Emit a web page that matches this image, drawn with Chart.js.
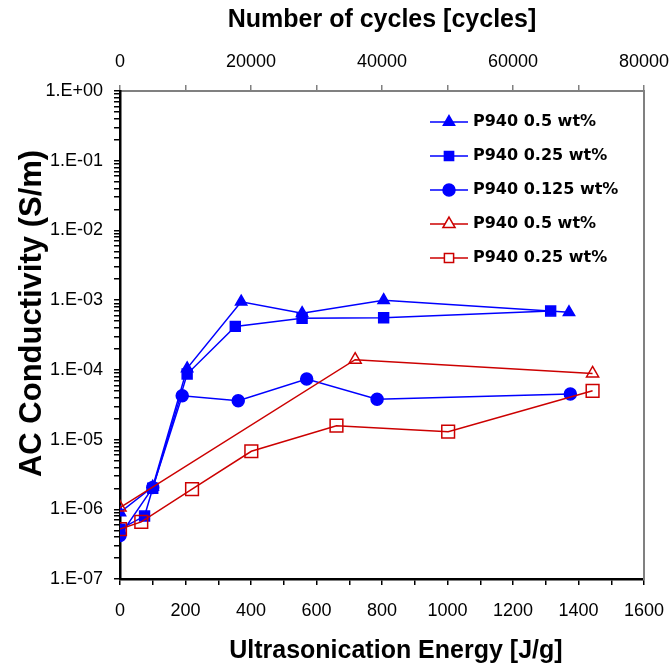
<!DOCTYPE html>
<html>
<head>
<meta charset="utf-8">
<script src="https://cdn.jsdelivr.net/npm/chart.js@4.4.1/dist/chart.umd.min.js"></script>
<style>
  html, body { margin: 0; padding: 0; background: #fff; }
  canvas { display: block; }
</style>
</head>
<body>
<canvas id="chart" width="672" height="670"></canvas>
<script>
// ultrasonication energy [J/g] and AC conductivity [S/m] per series
const labels = ["P940 0.5 wt%", "P940 0.25 wt%", "P940 0.125 wt%", "P940 0.5 wt%", "P940 0.25 wt%"];

const blueTriX = [0, 100, 205, 370, 556, 805, 1371];
const blueTriY = [9.0e-7, 2.1e-6, 1.05e-4, 9.5e-4, 6.5e-4, 1.0e-3, 6.7e-4];

const blueSqX = [0, 75, 100, 205, 352, 556, 805, 1315];
const blueSqY = [5.2e-7, 8.0e-7, 2.0e-6, 8.7e-5, 4.2e-4, 5.5e-4, 5.6e-4, 7.0e-4];

const blueCircX = [0, 100, 190, 361, 570, 785, 1375];
const blueCircY = [4.2e-7, 2.05e-6, 4.25e-5, 3.6e-5, 7.4e-5, 3.8e-5, 4.5e-5];

const redTriX = [0, 718, 1443];
const redTriY = [1.06e-6, 1.4e-4, 8.9e-5];

const redSqX = [0, 65, 220, 401, 661, 1002, 1443];
const redSqY = [5.2e-7, 6.6e-7, 1.95e-6, 6.8e-6, 1.58e-5, 1.3e-5, 5.0e-5];

// axis ranges and tick labels
const energyRange = [0, 1600];
const cycleRange = [0, 80000];
const yDecades = [-7, -6, -5, -4, -3, -2, -1, 0];

const FONT = "'Liberation Sans', Arial, sans-serif";
const LEGEND_FONT = "'DejaVu Sans', sans-serif";
const BLUE = "#0000FF";
const RED = "#CC0000";
const GRAY = "#808080";

const pts = (xs, ys) => xs.map((x, i) => ({ x: x, y: ys[i] }));

const yTickValues = [];
yDecades.forEach(e => {
    for (let m = 1; m <= 9; m++) {
        if (e === 0 && m > 1) break;
        yTickValues.push(m * Math.pow(10, e));
    }
});

function sciLabel(v) {
    const e = Math.log10(v);
    if (Math.abs(e - Math.round(e)) > 1e-6) return "";
    const n = Math.round(e);
    return "1.E" + (n < 0 ? "-" : "+") + String(Math.abs(n)).padStart(2, "0");
}

const datasets = [
    { label: labels[0], data: pts(blueTriX, blueTriY), borderColor: BLUE, backgroundColor: BLUE,
      pointStyle: "triangle", pointRadius: 6.5, order: 1 },
    { label: labels[1], data: pts(blueSqX, blueSqY), borderColor: BLUE, backgroundColor: BLUE,
      pointStyle: "rect", pointRadius: 7, order: 1 },
    { label: labels[2], data: pts(blueCircX, blueCircY), borderColor: BLUE, backgroundColor: BLUE,
      pointStyle: "circle", pointRadius: 6, order: 1 },
    { label: labels[3], data: pts(redTriX, redTriY), borderColor: RED, backgroundColor: "rgba(0,0,0,0)",
      pointStyle: "triangle", pointRadius: 7, order: 0 },
    { label: labels[4], data: pts(redSqX, redSqY), borderColor: RED, backgroundColor: "rgba(0,0,0,0)",
      pointStyle: "rect", pointRadius: 9, order: 0 }
];
datasets.forEach(d => {
    d.borderWidth = 1.5;
    d.pointBorderWidth = 1.5;
    d.pointBackgroundColor = d.backgroundColor;
    d.pointBorderColor = d.borderColor;
    d.showLine = true;
    d.fill = false;
    d.tension = 0;
});

// legend icons: short line with the marker in the middle
const icons = datasets.map(d => {
    const c = document.createElement("canvas");
    c.width = 38;
    c.height = 20;
    const g = c.getContext("2d");
    g.strokeStyle = d.borderColor;
    g.lineWidth = 1.5;
    g.beginPath();
    g.moveTo(0, 10);
    g.lineTo(38, 10);
    g.stroke();
    g.fillStyle = d.backgroundColor === "rgba(0,0,0,0)" ? "#fff" : d.backgroundColor;
    Chart.helpers.drawPoint(g, {
        pointStyle: d.pointStyle,
        radius: d.pointStyle === "rect" ? 6.5 : d.pointRadius,
        rotation: 0,
        borderWidth: 1.5
    }, 19, 10);
    return c;
});

// moves the legend into the upper right of the plot
const legendPlace = {
    id: "legendPlace",
    beforeDraw(chart) {
        const a = chart.chartArea;
        chart.legend.left = a.left + 295;
        chart.legend.top = a.top + 5;
    }
};

// tick labels may hang past the plot edge without shrinking it
const noEdgePadding = s => {
    s.height = 91;
    s.paddingLeft = 0;
    s.paddingRight = 0;
};

Chart.defaults.color = "#000";
Chart.defaults.font.family = FONT;

new Chart(document.getElementById("chart"), {
    type: "scatter",
    data: { datasets: datasets },
    plugins: [legendPlace],
    options: {
        responsive: false,
        animation: false,
        devicePixelRatio: 1,
        layout: { padding: { left: 0, right: 28, top: 0, bottom: 0 } },
        plugins: {
            tooltip: { enabled: false },
            legend: {
                position: "chartArea",
                align: "start",
                labels: {
                    usePointStyle: true,
                    pointStyleWidth: 32,
                    padding: 18,
                    color: "#000",
                    font: { family: LEGEND_FONT, size: 16, weight: "bold" },
                    generateLabels: chart => Chart.defaults.plugins.legend.labels.generateLabels(chart)
                        .sort((a, b) => a.datasetIndex - b.datasetIndex)
                        .map(l => Object.assign(l, { pointStyle: icons[l.datasetIndex], fillStyle: "#fff" }))
                }
            }
        },
        scales: {
            x: {
                type: "linear",
                position: "bottom",
                min: energyRange[0],
                max: energyRange[1],
                afterFit: noEdgePadding,
                border: { color: "#000", width: 2.5 },
                grid: { drawOnChartArea: false, tickLength: 6, tickColor: "#000", lineWidth: 1.5 },
                ticks: {
                    stepSize: 100, autoSkip: false, maxRotation: 0, padding: 15,
                    font: { family: FONT, size: 18 },
                    callback: v => (v % 200 === 0 ? String(v) : "")
                },
                title: {
                    display: true,
                    text: "    Ultrasonication Energy [J/g]",
                    font: { family: FONT, size: 25, weight: "bold", lineHeight: 1 },
                    padding: { top: 0, bottom: 6 }
                }
            },
            x2: {
                type: "linear",
                axis: "x",
                position: "top",
                min: cycleRange[0],
                max: cycleRange[1],
                afterFit: noEdgePadding,
                border: { color: GRAY, width: 2 },
                grid: { drawOnChartArea: false, tickLength: 6, tickColor: GRAY, lineWidth: 1.5 },
                ticks: {
                    stepSize: 10000, autoSkip: false, maxRotation: 0, padding: 12,
                    font: { family: FONT, size: 18 },
                    callback: v => (v % 20000 === 0 ? String(v) : "")
                },
                title: {
                    display: true,
                    text: "Number of cycles [cycles]",
                    font: { family: FONT, size: 25, weight: "bold", lineHeight: 1 },
                    padding: { top: 8, bottom: 0 }
                }
            },
            y: {
                type: "logarithmic",
                position: "left",
                min: 1e-7,
                max: 1,
                afterFit: s => { s.width = 120; },
                afterBuildTicks: s => { s.ticks = yTickValues.map(v => ({ value: v })); },
                border: { color: "#000", width: 2.5 },
                grid: { drawOnChartArea: false, tickLength: 6, tickColor: "#000", lineWidth: 1.5 },
                ticks: {
                    autoSkip: false, padding: 11,
                    font: { family: FONT, size: 18 },
                    callback: v => sciLabel(v)
                },
                title: {
                    display: true,
                    text: "     AC Conductivity (S/m)",
                    font: { family: FONT, size: 31, weight: "bold", lineHeight: 1 },
                    padding: { top: 17, bottom: 0 }
                }
            },
            y2: {
                type: "linear",
                axis: "y",
                position: "right",
                min: 0,
                max: 1,
                afterFit: s => { s.width = 0; },
                border: { color: GRAY, width: 2 },
                grid: { display: false },
                ticks: { display: false }
            }
        }
    }
});
</script>
</body>
</html>
